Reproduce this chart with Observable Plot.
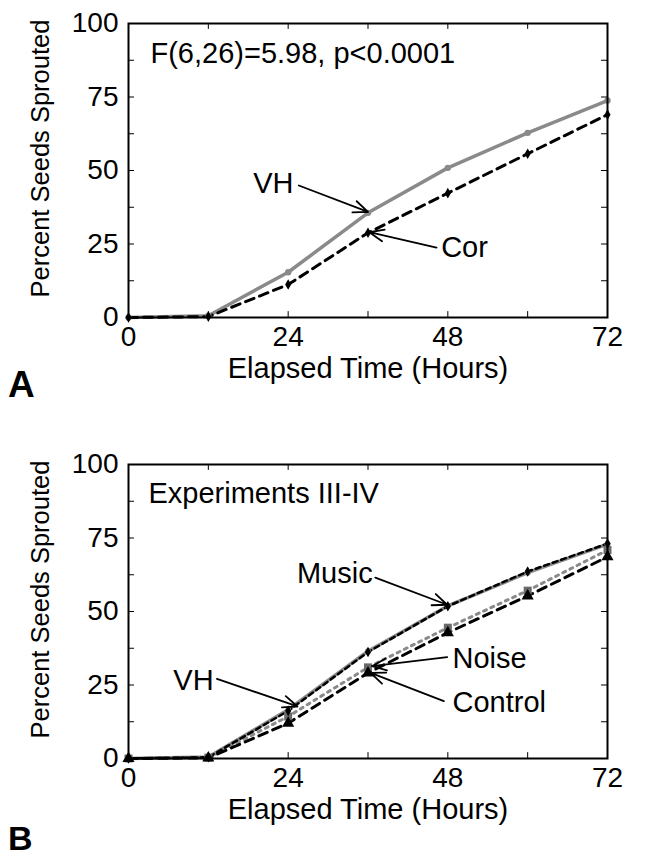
<!DOCTYPE html>
<html><head><meta charset="utf-8">
<script src="https://cdn.jsdelivr.net/npm/d3@7"></script>
<script src="https://cdn.jsdelivr.net/npm/@observablehq/plot@0.6"></script>
<style>
body{margin:0;background:#fff;}
#wrap{position:relative;width:647px;height:859px;font-family:"Liberation Sans",Arial,sans-serif;overflow:hidden;}
.panel{position:absolute;left:0;}
.letter{position:absolute;left:8px;font-weight:bold;line-height:0.9;font-family:"Liberation Sans",Arial,sans-serif;}
</style></head><body>
<div id="wrap">
  <div id="pa" class="panel" style="top:0px"></div>
  <div id="pb" class="panel" style="top:441px"></div>
  <div class="letter" style="top:368px;font-size:37px">A</div>
  <div class="letter" style="top:823px;font-size:34px">B</div>
</div>
<script>
// ---- data ----
const hours = [0, 12, 24, 36, 48, 60, 72];
const xTickLabels = [0, 24, 48, 72];
const yTickLabels = [0, 25, 50, 75, 100];
const xMinorTicks = [12, 24, 36, 48, 60];
const yMinorTicks = [12.5, 25, 37.5, 50, 62.5, 75, 87.5];

// Panel A
const vhA  = [0, 0.6, 15.4, 35.6, 50.9, 62.8, 73.8];
const corA = [0, 0.3, 11.2, 28.8, 42.3, 55.7, 69.0];
const statText = "F(6,26)=5.98, p<0.0001";

// Panel B
const vhB      = [0, 0.5, 16.6, 36.5, 51.9, 63.2, 72.9];
const musicB   = [0, 0.4, 16.2, 36.2, 51.8, 63.6, 73.1];
const noiseB   = [0, 0.3, 14.3, 31.0, 44.5, 57.1, 70.9];
const controlB = [0, 0.2, 12.0, 29.1, 42.8, 55.3, 68.6];
const expText = "Experiments III-IV";

// annotation labels (hours, percent) and arrows
const notesA = [
  {label: "VH",  x: 24.8, y: 45.6, anchor: "end"},
  {label: "Cor", x: 47.0, y: 23.9, anchor: "start"}
];
const arrowsA = [
  {x1: 25.6, y1: 44.9, x2: 36.0, y2: 35.9},
  {x1: 46.3, y1: 23.8, x2: 36.2, y2: 29.0}
];
const notesB = [
  {label: "Music",   x: 36.7, y: 62.8, anchor: "end"},
  {label: "Noise",   x: 48.7, y: 33.8, anchor: "start"},
  {label: "Control", x: 48.7, y: 18.9, anchor: "start"},
  {label: "VH",      x: 12.8, y: 26.3, anchor: "end"}
];
const arrowsB = [
  {x1: 37.1, y1: 61.5, x2: 47.9, y2: 52.3},
  {x1: 47.9, y1: 34.5, x2: 36.6, y2: 31.4},
  {x1: 47.4, y1: 19.5, x2: 36.4, y2: 29.1},
  {x1: 13.3, y1: 27.1, x2: 25.4, y2: 17.7}
];

const FONT = "Liberation Sans, Arial, sans-serif";
const GRAY = "#8a8a8a";
const rows = (vals) => hours.map((h, i) => ({h, v: vals[i]}));

function frameMarks() {
  return [
    Plot.ruleX(xMinorTicks, {x: d => d, y1: 0, y2: 2, stroke: "black", strokeWidth: 1}),
    Plot.ruleX(xMinorTicks, {x: d => d, y1: 98, y2: 100, stroke: "black", strokeWidth: 1}),
    Plot.ruleY(yMinorTicks, {y: d => d, x1: 0, x2: 0.9, stroke: "black", strokeWidth: 1}),
    Plot.ruleY(yMinorTicks, {y: d => d, x1: 71.1, x2: 72, stroke: "black", strokeWidth: 1}),
    Plot.axisX(xTickLabels, {tickSize: 0, tickPadding: 9, fontSize: 28, tickFormat: d => d, label: null}),
    Plot.axisY(yTickLabels, {tickSize: 0, tickPadding: 10, fontSize: 28, tickFormat: d => d, label: null}),
    Plot.text(["Elapsed Time (Hours)"], {frameAnchor: "bottom", dy: 51, text: d => d, fontSize: 29, textAnchor: "middle", lineAnchor: "middle"}),
    Plot.text(["Percent Seeds Sprouted"], {frameAnchor: "left", dx: -88, dy: -12, rotate: -90, text: d => d, fontSize: 25.5, textAnchor: "middle", lineAnchor: "middle"})
  ];
}

function noteMarks(notes) {
  return [
    Plot.text(notes.filter(d => d.anchor === "end"), {x: "x", y: "y", text: "label", textAnchor: "end", fontSize: 29, lineAnchor: "middle"}),
    Plot.text(notes.filter(d => d.anchor === "start"), {x: "x", y: "y", text: "label", textAnchor: "start", fontSize: 29, lineAnchor: "middle"})
  ];
}

function makePlot(marks) {
  return Plot.plot({
    width: 647, height: 390,
    marginLeft: 128, marginRight: 40, marginTop: 23, marginBottom: 73,
    style: {fontFamily: FONT, fontSize: "28px", background: "white", overflow: "visible"},
    x: {domain: [0, 72], axis: null},
    y: {domain: [0, 100], axis: null},
    marks: [...frameMarks(), ...marks, Plot.frame({stroke: "black", strokeWidth: 2})]
  });
}

// Panel A
const plotA = makePlot([
  Plot.line(rows(vhA), {x: "h", y: "v", stroke: GRAY, strokeWidth: 3.5}),
  Plot.line(rows(corA), {x: "h", y: "v", stroke: "black", strokeWidth: 3, strokeDasharray: "9,6"}),
  Plot.dot(rows(vhA), {x: "h", y: "v", r: 3.2, fill: GRAY, symbol: "circle"}),
  Plot.dot(rows(corA), {x: "h", y: "v", r: 3.2, fill: "black", symbol: "diamond"}),
  Plot.text([statText], {frameAnchor: "top-left", dx: 22, dy: 30, text: d => d, fontSize: 29, textAnchor: "start", lineAnchor: "middle"}),
  Plot.arrow(arrowsA, {x1: "x1", y1: "y1", x2: "x2", y2: "y2", stroke: "black", strokeWidth: 1.8, headLength: 13, headAngle: 45}),
  ...noteMarks(notesA)
]);
document.getElementById("pa").append(plotA);

// Panel B
const plotB = makePlot([
  Plot.line(rows(vhB), {x: "h", y: "v", stroke: GRAY, strokeWidth: 3.5}),
  Plot.line(rows(noiseB), {x: "h", y: "v", stroke: GRAY, strokeWidth: 3, strokeDasharray: "3,5"}),
  Plot.line(rows(controlB), {x: "h", y: "v", stroke: "black", strokeWidth: 3, strokeDasharray: "9,6"}),
  Plot.line(rows(musicB), {x: "h", y: "v", stroke: "black", strokeWidth: 2.5, strokeDasharray: "5,4"}),
  Plot.dot(rows(vhB), {x: "h", y: "v", r: 3, fill: GRAY, symbol: "circle"}),
  Plot.dot(rows(noiseB), {x: "h", y: "v", r: 4.5, fill: "#6a6a6a", symbol: "square"}),
  Plot.dot(rows(controlB), {x: "h", y: "v", r: 4.5, fill: "black", symbol: "triangle"}),
  Plot.dot(rows(musicB), {x: "h", y: "v", r: 3.2, fill: "black", symbol: "diamond"}),
  Plot.text([expText], {frameAnchor: "top-left", dx: 20, dy: 29, text: d => d, fontSize: 29, textAnchor: "start", lineAnchor: "middle"}),
  Plot.arrow(arrowsB, {x1: "x1", y1: "y1", x2: "x2", y2: "y2", stroke: "black", strokeWidth: 1.8, headLength: 13, headAngle: 45}),
  ...noteMarks(notesB)
]);
document.getElementById("pb").append(plotB);
</script>
</body></html>
